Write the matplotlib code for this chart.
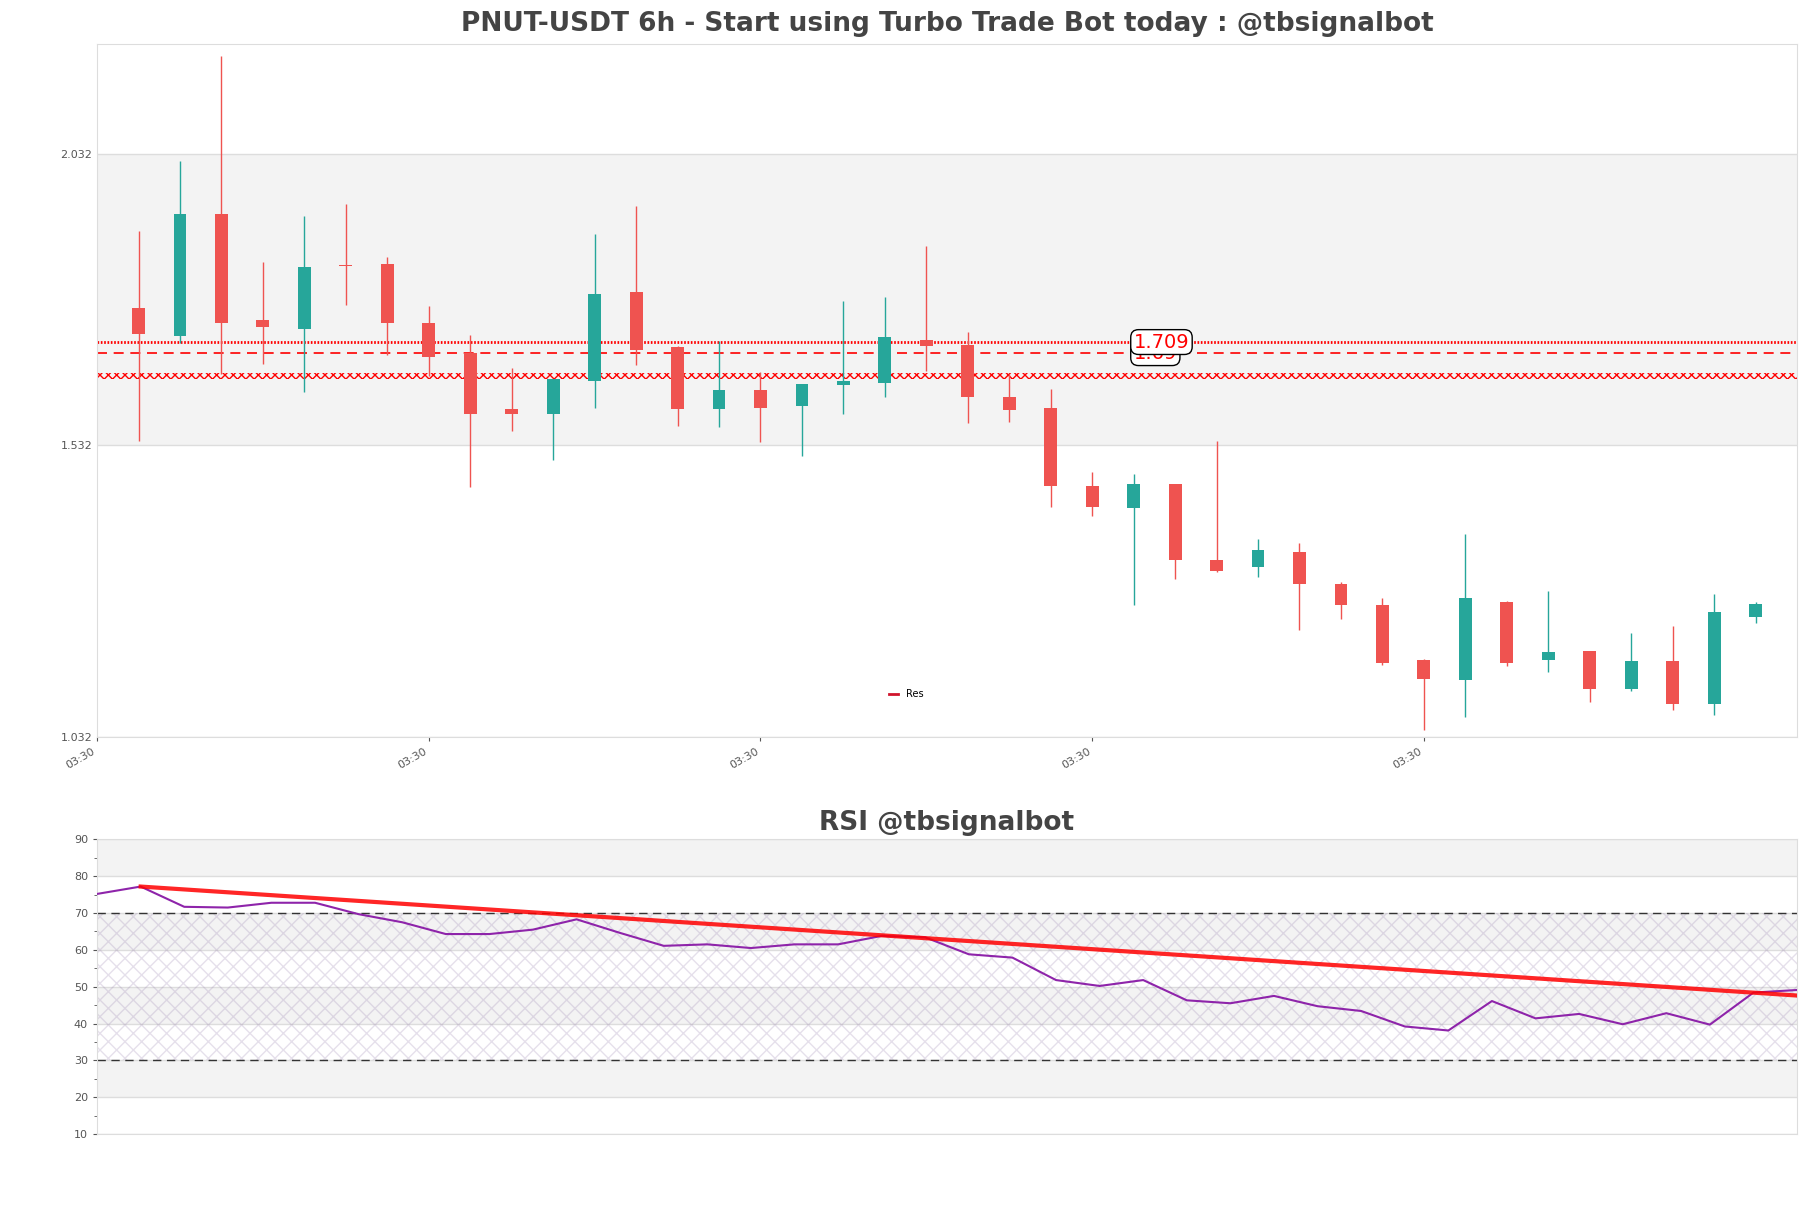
import matplotlib

matplotlib.use("Agg")
import matplotlib.pyplot as plt
from matplotlib.lines import Line2D
from matplotlib.ticker import MultipleLocator

# candles, 6h
opens = [1.767, 1.720, 1.928, 1.747, 1.732, 1.8405, 1.843, 1.742, 1.691, 1.594,
         1.586, 1.643, 1.794, 1.700, 1.595, 1.627, 1.600, 1.636, 1.639, 1.713,
         1.704, 1.615, 1.596, 1.462, 1.425, 1.466, 1.336, 1.323, 1.349, 1.294,
         1.258, 1.164, 1.129, 1.264, 1.164, 1.180, 1.115, 1.163, 1.089, 1.238]
highs = [1.900, 2.020, 2.200, 1.846, 1.925, 1.945, 1.855, 1.771, 1.721, 1.664,
         1.646, 1.895, 1.942, 1.703, 1.710, 1.658, 1.637, 1.779, 1.786, 1.873,
         1.727, 1.654, 1.629, 1.486, 1.482, 1.466, 1.540, 1.372, 1.365, 1.298,
         1.270, 1.166, 1.380, 1.265, 1.283, 1.180, 1.210, 1.222, 1.277, 1.263]
lows = [1.540, 1.708, 1.654, 1.672, 1.624, 1.773, 1.686, 1.651, 1.461, 1.557,
        1.506, 1.596, 1.669, 1.565, 1.564, 1.537, 1.513, 1.586, 1.614, 1.660,
        1.570, 1.572, 1.427, 1.411, 1.259, 1.303, 1.315, 1.306, 1.216, 1.235,
        1.155, 1.044, 1.067, 1.154, 1.144, 1.092, 1.110, 1.079, 1.070, 1.227]
closes = [1.722, 1.928, 1.742, 1.734, 1.837, 1.8395, 1.741, 1.684, 1.586, 1.586,
          1.645, 1.791, 1.696, 1.595, 1.627, 1.596, 1.637, 1.642, 1.717, 1.703,
          1.615, 1.592, 1.463, 1.427, 1.466, 1.336, 1.316, 1.352, 1.294, 1.258,
          1.159, 1.131, 1.270, 1.158, 1.177, 1.114, 1.163, 1.089, 1.246, 1.260]

price_ticks = [1.032, 1.532, 2.032]
price_top = 2.22
time_tick_pos = [-1, 7, 15, 23, 31]
time_tick_labels = ["03:30", "03:30", "03:30", "03:30", "03:30"]

res_levels = [1.709, 1.69]
res_labels = ["1.709", "1.69"]
res_zone = (1.6455, 1.6565)
res_label_x = 24

rsi_values = [75.2, 77.2, 71.7, 71.5, 72.8, 72.8, 69.7, 67.5, 64.3, 64.3,
              65.5, 68.3, 64.6, 61.1, 61.5, 60.5, 61.5, 61.5, 63.8, 63.4,
              58.8, 57.9, 51.8, 50.2, 51.8, 46.3, 45.5, 47.5, 44.7, 43.4,
              39.2, 38.1, 46.1, 41.4, 42.6, 39.8, 42.8, 39.7, 48.4, 49.1]
rsi_trend_x = [1, 39]
rsi_trend_y = [77.2, 47.6]
rsi_ticks = [10, 20, 30, 40, 50, 60, 70, 80, 90]

UP = "#26a69a"
DOWN = "#ef5350"
GRID = "#dddddd"
BAND = "#f3f3f3"
TEXT = "#444444"
TICK = "#555555"


def shade_bands(axis, ticks):
    for i in range(1, len(ticks) - 1, 2):
        axis.axhspan(ticks[i], ticks[i + 1], color=BAND, lw=0, zorder=0)
    for t in ticks:
        axis.axhline(t, color=GRID, lw=1, zorder=0.5)


def style_axis(axis):
    for spine in axis.spines.values():
        spine.set_color(GRID)
    axis.tick_params(colors=TICK, labelsize=8, length=3)


fig = plt.figure(figsize=(18.11, 12.08), dpi=100)
ax = fig.add_axes([0.0536, 0.3899, 0.9387, 0.5737])
ax_rsi = fig.add_axes([0.0536, 0.0613, 0.9387, 0.2438])

# price panel
n = len(opens)
xs = list(range(n))
colors = [UP if c >= o else DOWN for o, c in zip(opens, closes)]
bottoms = [min(o, c) for o, c in zip(opens, closes)]
heights = [max(abs(c - o), 0.0012) for o, c in zip(opens, closes)]
ax.vlines(xs, lows, highs, colors=colors, lw=1, zorder=3)
ax.bar(xs, heights, bottom=bottoms, width=0.31, color=colors, lw=0, zorder=4)

shade_bands(ax, price_ticks)
ax.axhline(res_levels[0], color="red", lw=2, ls=(0, (0.6, 0.6)), zorder=2)
ax.axhline(res_levels[1], color="red", lw=1.2, ls=(0, (6, 4)), zorder=2)
ax.fill_between([-1, n], res_zone[0], res_zone[1], facecolor="none",
                edgecolor="red", hatch="xxxx", lw=0, zorder=2)

for level, label, z in zip(res_levels[::-1], res_labels[::-1], [6, 7]):
    ax.text(res_label_x, level, label, color="red", fontsize=14, ha="left",
            va="center", zorder=z,
            bbox=dict(boxstyle="round,pad=0.15,rounding_size=0.4",
                      fc="white", ec="black", lw=1))

ax.set_xlim(-1, n)
ax.set_ylim(price_ticks[0], price_top)
ax.set_yticks(price_ticks)
ax.set_yticklabels([f"{t:.3f}" for t in price_ticks])
ax.set_xticks(time_tick_pos)
ax.set_xticklabels(time_tick_labels, rotation=30, ha="right")
style_axis(ax)
ax.tick_params(axis="y", length=0)
ax.set_title("PNUT-USDT 6h - Start using Turbo Trade Bot today : @tbsignalbot",
             fontsize=19, fontweight="bold", color=TEXT, pad=9)
ax.legend(handles=[Line2D([], [], color="#d0142c", lw=2)], labels=["Res"],
          loc="center", bbox_to_anchor=(0.476, 0.062), frameon=False,
          fontsize=7, handlelength=1)

# rsi panel
shade_bands(ax_rsi, rsi_ticks)
ax_rsi.fill_between([0, len(rsi_values) - 1], 30, 70, facecolor="none",
                    edgecolor=(0.55, 0.45, 0.65, 0.22), hatch="xx", lw=0,
                    zorder=1)
ax_rsi.axhline(70, color="#333333", lw=1, ls=(0, (6, 4)), zorder=2)
ax_rsi.axhline(30, color="#333333", lw=1, ls=(0, (6, 4)), zorder=2)
ax_rsi.plot(range(len(rsi_values)), rsi_values, color="#8e24aa", lw=1.5, zorder=3)
ax_rsi.plot(rsi_trend_x, rsi_trend_y, color="red", lw=3, alpha=0.85, zorder=4)

ax_rsi.set_xlim(0, len(rsi_values) - 1)
ax_rsi.set_ylim(rsi_ticks[0], rsi_ticks[-1])
ax_rsi.set_yticks(rsi_ticks)
ax_rsi.yaxis.set_minor_locator(MultipleLocator(5))
ax_rsi.set_xticks([])
style_axis(ax_rsi)
ax_rsi.tick_params(axis="y", which="minor", length=2, colors=TICK)
ax_rsi.set_title("RSI @tbsignalbot", fontsize=19, fontweight="bold",
                 color=TEXT, pad=7)

fig.savefig("out.png", dpi=100)
